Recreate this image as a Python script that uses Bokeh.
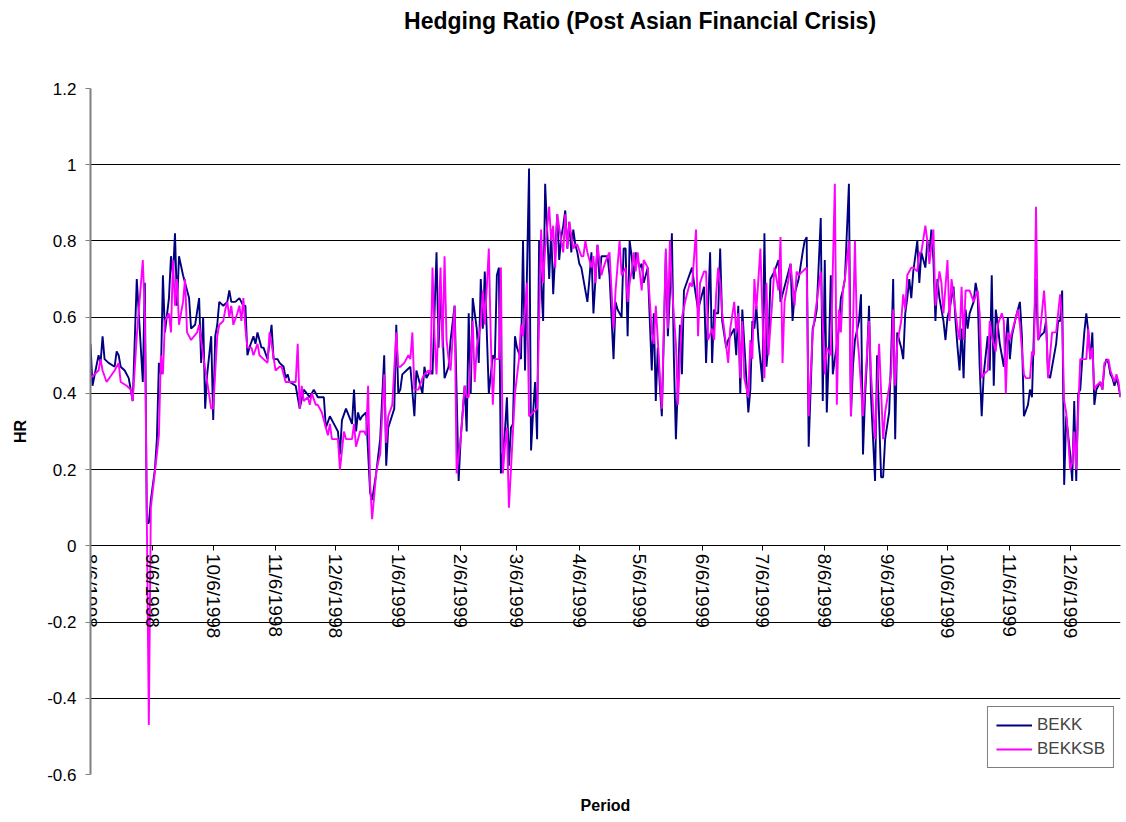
from datetime import date

from bokeh.embed import file_html
from bokeh.layouts import column
from bokeh.models import (CustomJSTickFormatter, FixedTicker, Label, Legend, LegendItem,
                          LinearAxis, Range1d)
from bokeh.plotting import figure
from bokeh.resources import INLINE

# ---------------------------------------------------------------------------
# Data: hedge ratio estimates, x given as calendar days after 6 Aug 1998
# ---------------------------------------------------------------------------
BASE_DATE = date(1998, 8, 6)

tick_labels = ["8/6/1998", "9/6/1998", "10/6/1998", "11/6/1998", "12/6/1998",
               "1/6/1999", "2/6/1999", "3/6/1999", "4/6/1999", "5/6/1999",
               "6/6/1999", "7/6/1999", "8/6/1999", "9/6/1999", "10/6/1999",
               "11/6/1999", "12/6/1999"]

y_ticks = [-0.6, -0.4, -0.2, 0.0, 0.2, 0.4, 0.6, 0.8, 1.0, 1.2]

bekk_day = (
    [0, 1, 4, 5, 6, 7, 9, 12, 13, 14, 15, 17, 19, 21, 23, 26, 27, 28, 29, 30,
     32, 33, 34, 35, 36, 37, 39, 40, 41, 42, 43, 44, 46, 47, 49]
    + [50, 52, 54, 55, 56, 57, 58, 60, 61, 62, 63, 64, 66, 68, 69, 70, 72, 74, 76, 77,
       78, 79, 81, 82, 83, 85, 86, 88, 90, 91, 93, 94, 96, 97, 98, 99]
    + [102, 104, 106, 109, 111, 113, 116, 117, 119, 121, 123, 124, 125, 127, 130, 131,
       132, 133, 134, 135, 137, 139, 140, 142, 144, 146, 147, 148, 151, 152, 153]
    + [154, 155, 157, 159, 161, 162, 164, 165, 166, 167, 169, 170, 171, 172, 173, 174,
       175, 176, 178, 179, 181, 183, 184, 186, 187, 188, 189, 190, 192, 193, 194, 195,
       196, 198, 199, 200, 201, 202, 203, 204, 206]
    + [207, 208, 209, 210, 211, 212, 214, 215, 216, 218, 219, 220, 221, 222, 223, 225,
       226, 227, 228, 229, 230, 232, 233, 234, 235, 236, 237, 238, 239, 240, 241, 242,
       243, 244, 245, 247, 248, 249, 250, 252, 253, 254, 257, 258]
    + [260, 261, 262, 264, 265, 266, 267, 268, 269, 270, 271, 273, 274, 275, 277, 279,
       280, 281, 282, 283, 284, 286, 287, 288, 289, 290, 291, 293, 294, 295, 297, 299,
       300, 302, 303, 305, 306, 308, 309, 310, 311]
    + [312, 313, 314, 316, 317, 320, 321, 322, 323, 324, 325, 327, 328, 329, 330, 331,
       332, 334, 335, 336, 337, 338, 339, 340, 342, 343, 345, 348, 349, 350, 352, 354,
       355, 356, 357, 359, 360, 361, 363]
    + [364, 365, 366, 367, 368, 369, 372, 373, 374, 375, 377, 378, 379, 380, 382, 383,
       384, 385, 386, 387, 388, 390, 391, 393, 394, 395, 397, 398, 399, 400, 401, 403,
       404, 405, 406, 407, 408, 409, 411, 412, 413, 415, 416]
    + [417, 418, 419, 420, 421, 422, 424, 425, 426, 427, 429, 430, 431, 432, 433, 434,
       435, 436, 437, 439, 440, 441, 442, 443, 444, 446, 447, 448, 449, 450, 451, 452,
       453, 454, 456, 457, 458, 460, 462, 463, 464, 466, 467, 468, 469, 470]
    + [471, 472, 474, 475, 476, 477, 478, 480, 481, 482, 483, 484, 485, 487, 488, 489,
       490, 491, 492, 493, 494, 495, 496, 497, 498, 499, 500, 502, 503, 504, 505, 506,
       507, 508, 509, 510, 511, 512]
)

bekk_hr = (
    [0.53, 0.42, 0.50, 0.48, 0.55, 0.49, 0.48, 0.47, 0.51, 0.50, 0.47, 0.46, 0.44, 0.38,
     0.70, 0.43, 0.69, 0.06, 0.06, 0.12, 0.20, 0.28, 0.48, 0.45, 0.71, 0.56, 0.65, 0.76,
     0.71, 0.82, 0.63, 0.76, 0.71, 0.69, 0.65]
    + [0.57, 0.58, 0.65, 0.48, 0.60, 0.36, 0.45, 0.55, 0.33, 0.55, 0.58, 0.64, 0.63, 0.64,
       0.67, 0.64, 0.64, 0.65, 0.63, 0.63, 0.50, 0.52, 0.55, 0.53, 0.56, 0.52, 0.52, 0.49,
       0.58, 0.49, 0.49, 0.48, 0.47, 0.44, 0.45, 0.43]
    + [0.42, 0.36, 0.41, 0.39, 0.41, 0.39, 0.39, 0.31, 0.34, 0.32, 0.30, 0.24, 0.33, 0.36,
       0.32, 0.41, 0.30, 0.35, 0.33, 0.34, 0.35, 0.14, 0.12, 0.19, 0.28, 0.50, 0.21, 0.31,
       0.36, 0.58, 0.40]
    + [0.41, 0.45, 0.46, 0.47, 0.34, 0.46, 0.42, 0.40, 0.47, 0.44, 0.46, 0.45, 0.61, 0.77,
       0.52, 0.66, 0.56, 0.44, 0.47, 0.54, 0.63, 0.17, 0.28, 0.42, 0.30, 0.61, 0.40, 0.65,
       0.57, 0.48, 0.70, 0.57, 0.72, 0.40, 0.45, 0.50, 0.49, 0.71, 0.73, 0.19, 0.30]
    + [0.39, 0.21, 0.31, 0.32, 0.55, 0.52, 0.49, 0.80, 0.46, 0.99, 0.25, 0.35, 0.43, 0.28,
       0.80, 0.59, 0.95, 0.83, 0.70, 0.83, 0.66, 0.87, 0.75, 0.81, 0.84, 0.88, 0.78, 0.85,
       0.77, 0.83, 0.79, 0.77, 0.74, 0.73, 0.70, 0.64, 0.70, 0.77, 0.61, 0.79, 0.70, 0.76,
       0.76, 0.71]
    + [0.49, 0.64, 0.62, 0.60, 0.78, 0.78, 0.55, 0.80, 0.76, 0.70, 0.77, 0.73, 0.74, 0.69,
       0.73, 0.46, 0.61, 0.38, 0.52, 0.42, 0.34, 0.77, 0.55, 0.66, 0.82, 0.49, 0.28, 0.58,
       0.45, 0.67, 0.70, 0.73, 0.69, 0.62, 0.64, 0.68, 0.48, 0.77, 0.48, 0.62, 0.61]
    + [0.61, 0.78, 0.59, 0.52, 0.54, 0.57, 0.50, 0.63, 0.40, 0.62, 0.53, 0.35, 0.41, 0.59,
       0.57, 0.63, 0.54, 0.43, 0.82, 0.47, 0.53, 0.70, 0.71, 0.72, 0.75, 0.64, 0.68, 0.74,
       0.59, 0.66, 0.70, 0.77, 0.80, 0.81, 0.26, 0.57, 0.59, 0.62, 0.86]
    + [0.38, 0.75, 0.35, 0.50, 0.71, 0.45, 0.57, 0.65, 0.67, 0.70, 0.95, 0.34, 0.47, 0.54,
       0.59, 0.66, 0.24, 0.39, 0.49, 0.63, 0.39, 0.17, 0.50, 0.18, 0.18, 0.28, 0.35, 0.50,
       0.70, 0.28, 0.56, 0.52, 0.49, 0.61, 0.65, 0.70, 0.65, 0.72, 0.80, 0.69, 0.77, 0.73,
       0.80]
    + [0.77, 0.83, 0.75, 0.59, 0.70, 0.65, 0.59, 0.54, 0.60, 0.62, 0.68, 0.59, 0.52, 0.46,
       0.57, 0.44, 0.62, 0.57, 0.61, 0.64, 0.69, 0.66, 0.47, 0.34, 0.45, 0.55, 0.46, 0.71,
       0.42, 0.62, 0.58, 0.53, 0.50, 0.47, 0.60, 0.49, 0.55, 0.60, 0.64, 0.55, 0.34, 0.37,
       0.41, 0.39, 0.57, 0.70]
    + [0.54, 0.55, 0.56, 0.59, 0.45, 0.44, 0.47, 0.53, 0.59, 0.59, 0.67, 0.16, 0.34, 0.24,
       0.17, 0.38, 0.17, 0.40, 0.41, 0.49, 0.56, 0.61, 0.56, 0.49, 0.56, 0.37, 0.41, 0.43,
       0.41, 0.47, 0.49, 0.48, 0.45, 0.44, 0.42, 0.44, 0.42, 0.39]
)

bekksb_day = (
    [0, 4, 5, 6, 8, 12, 14, 15, 18, 20, 21, 23, 26, 27, 29, 30, 33, 34, 35, 36, 37, 39,
     40, 41, 42, 43, 44, 46, 47, 48]
    + [50, 53, 54, 56, 58, 60, 61, 63, 64, 66, 67, 68, 69, 70, 71, 73, 74, 75, 76, 77,
       78, 80, 81, 83, 84, 86, 88, 89, 90, 92, 94, 95, 97, 100]
    + [102, 103, 104, 105, 106, 108, 109, 110, 112, 113, 115, 117, 118, 119, 120, 123,
       124, 126, 127, 130, 131, 132, 134, 136, 137, 138, 139, 140, 142, 143, 144, 146,
       147, 148, 150, 152, 153, 154]
    + [156, 158, 159, 160, 161, 163, 165, 166, 168, 169, 170, 171, 172, 174, 175, 176,
       177, 178, 179, 181, 182, 184, 186, 187, 188, 190, 191, 192, 194, 195, 196, 198,
       199, 200, 201, 203, 204, 205, 206]
    + [207, 208, 210, 211, 213, 214, 215, 217, 218, 220, 222, 223, 224, 225, 226, 228,
       229, 230, 231, 232, 234, 235, 236, 237, 238, 240, 241, 242, 244, 245, 246, 247,
       249, 250, 251, 252, 254, 255, 257, 258]
    + [260, 261, 263, 264, 266, 267, 268, 269, 270, 271, 272, 274, 275, 277, 279, 280,
       281, 282, 283, 284, 286, 287, 288, 289, 291, 292, 293, 294, 296, 298, 299, 301,
       302, 303, 305, 306, 307, 309, 310]
    + [311, 312, 313, 314, 317, 318, 320, 321, 322, 323, 324, 325, 327, 328, 329, 330,
       331, 332, 333, 335, 336, 337, 339, 340, 342, 343, 344, 345, 347, 348, 350, 351,
       352, 354, 356, 357, 359, 361, 363]
    + [365, 366, 367, 368, 370, 371, 372, 373, 374, 375, 377, 378, 380, 381, 382, 384,
       385, 387, 388, 390, 392, 394, 395, 398, 399, 400, 401, 403, 404, 405, 406, 408,
       409, 411, 412, 413, 415, 416]
    + [417, 419, 420, 422, 423, 424, 426, 427, 428, 429, 431, 432, 433, 434, 435, 437,
       439, 441, 442, 443, 444, 446, 447, 448, 450, 451, 453, 454, 455, 456, 457, 459,
       461, 462, 464, 465, 467, 468, 469, 470]
    + [471, 472, 474, 475, 476, 478, 480, 482, 483, 484, 485, 486, 487, 488, 489, 490,
       491, 492, 495, 496, 497, 498, 499, 500, 502, 503, 504, 506, 507, 509, 510, 511,
       512]
)

bekksb_hr = (
    [0.44, 0.46, 0.49, 0.46, 0.43, 0.46, 0.48, 0.43, 0.42, 0.41, 0.38, 0.55, 0.75, 0.61,
     -0.47, 0.10, 0.24, 0.29, 0.50, 0.45, 0.59, 0.61, 0.56, 0.75, 0.63, 0.70, 0.58, 0.64,
     0.70, 0.56]
    + [0.54, 0.56, 0.58, 0.50, 0.43, 0.36, 0.36, 0.55, 0.58, 0.59, 0.62, 0.64, 0.60, 0.63,
       0.58, 0.61, 0.63, 0.59, 0.65, 0.57, 0.52, 0.52, 0.50, 0.53, 0.50, 0.49, 0.48, 0.56,
       0.53, 0.46, 0.47, 0.47, 0.43, 0.43]
    + [0.43, 0.53, 0.36, 0.42, 0.38, 0.39, 0.37, 0.40, 0.37, 0.37, 0.35, 0.31, 0.29, 0.32,
       0.28, 0.28, 0.20, 0.30, 0.28, 0.28, 0.32, 0.26, 0.30, 0.30, 0.29, 0.42, 0.16, 0.07,
       0.19, 0.22, 0.24, 0.45, 0.27, 0.34, 0.37, 0.56, 0.47, 0.47]
    + [0.48, 0.50, 0.49, 0.56, 0.41, 0.41, 0.44, 0.45, 0.46, 0.45, 0.73, 0.55, 0.45, 0.73,
       0.52, 0.76, 0.54, 0.49, 0.46, 0.63, 0.19, 0.28, 0.42, 0.39, 0.39, 0.59, 0.43, 0.52,
       0.58, 0.67, 0.58, 0.78, 0.54, 0.37, 0.49, 0.49, 0.73, 0.19, 0.26]
    + [0.31, 0.10, 0.30, 0.40, 0.49, 0.58, 0.55, 0.69, 0.34, 0.35, 0.36, 0.59, 0.83, 0.69,
       0.78, 0.89, 0.80, 0.84, 0.73, 0.87, 0.80, 0.77, 0.87, 0.78, 0.85, 0.78, 0.79, 0.79,
       0.76, 0.76, 0.80, 0.77, 0.73, 0.76, 0.69, 0.79, 0.71, 0.73, 0.76, 0.77]
    + [0.57, 0.67, 0.80, 0.71, 0.73, 0.64, 0.69, 0.72, 0.77, 0.72, 0.77, 0.67, 0.75, 0.73,
       0.56, 0.53, 0.63, 0.54, 0.45, 0.36, 0.78, 0.57, 0.80, 0.68, 0.53, 0.37, 0.49, 0.60,
       0.65, 0.69, 0.68, 0.83, 0.55, 0.69, 0.72, 0.72, 0.54, 0.57, 0.54]
    + [0.66, 0.73, 0.69, 0.61, 0.48, 0.57, 0.64, 0.56, 0.61, 0.44, 0.59, 0.44, 0.39, 0.54,
       0.49, 0.70, 0.62, 0.70, 0.78, 0.44, 0.69, 0.50, 0.65, 0.73, 0.67, 0.81, 0.48, 0.64,
       0.70, 0.74, 0.63, 0.72, 0.71, 0.72, 0.73, 0.34, 0.56, 0.64, 0.72]
    + [0.45, 0.52, 0.51, 0.50, 0.95, 0.37, 0.62, 0.56, 0.67, 0.70, 0.80, 0.34, 0.80, 0.56,
       0.50, 0.34, 0.42, 0.59, 0.45, 0.28, 0.53, 0.28, 0.35, 0.45, 0.62, 0.42, 0.53, 0.59,
       0.66, 0.62, 0.71, 0.73, 0.73, 0.72, 0.77, 0.77, 0.84, 0.80]
    + [0.74, 0.83, 0.63, 0.72, 0.69, 0.61, 0.75, 0.59, 0.70, 0.66, 0.57, 0.54, 0.68, 0.54,
       0.67, 0.67, 0.64, 0.67, 0.61, 0.44, 0.45, 0.46, 0.59, 0.55, 0.51, 0.58, 0.61, 0.59,
       0.40, 0.56, 0.54, 0.58, 0.62, 0.58, 0.45, 0.44, 0.44, 0.51, 0.50, 0.89]
    + [0.54, 0.56, 0.67, 0.59, 0.44, 0.56, 0.56, 0.66, 0.59, 0.38, 0.35, 0.28, 0.20, 0.22,
       0.30, 0.20, 0.36, 0.49, 0.49, 0.57, 0.49, 0.52, 0.41, 0.42, 0.43, 0.41, 0.48, 0.49,
       0.46, 0.43, 0.45, 0.43, 0.39]
)

assert len(bekk_day) == len(bekk_hr)
assert len(bekksb_day) == len(bekksb_hr)


def day_offset(label):
    m, d, y = (int(part) for part in label.split("/"))
    return (date(y, m, d) - BASE_DATE).days


tick_days = [day_offset(lab) for lab in tick_labels]

FONT = "Liberation Sans"
NAVY = "#000080"
MAGENTA = "#FF00FF"
X_END = 512
WIDTH, HEIGHT = 1126, 822
LEFT, RIGHT = 90, 6          # horizontal margins around the plotting area
HEAD_H = 45                  # strip holding the chart heading
DAY_PX = (WIDTH - LEFT - RIGHT) / X_END

# ---------------------------------------------------------------------------
# Heading strip (shares the horizontal layout of the main chart)
# ---------------------------------------------------------------------------
head = figure(width=WIDTH, height=HEAD_H, output_backend="svg", toolbar_location=None,
              x_range=Range1d(0, X_END), y_range=Range1d(0, HEAD_H),
              min_border_left=LEFT, min_border_right=RIGHT,
              min_border_top=0, min_border_bottom=0, outline_line_color=None,
              x_axis_location=None, y_axis_location=None,
              background_fill_color="white", border_fill_color="white")
head.xgrid.visible = False
head.ygrid.visible = False
head.add_layout(Label(x=(640 - LEFT) / DAY_PX, y=HEAD_H - 20,
                      x_units="data", y_units="data",
                      text="Hedging Ratio (Post Asian Financial Crisis)",
                      text_font=FONT, text_font_size="23px", text_font_style="bold",
                      text_color="black", text_align="center", text_baseline="middle"))

# ---------------------------------------------------------------------------
# Main chart
# ---------------------------------------------------------------------------
p = figure(width=WIDTH, height=HEIGHT - HEAD_H, output_backend="svg",
           toolbar_location=None,
           x_range=Range1d(0, X_END), y_range=Range1d(-0.6, 1.2),
           min_border_left=LEFT, min_border_right=RIGHT, min_border_top=88 - HEAD_H,
           min_border_bottom=48, outline_line_color=None,
           background_fill_color="white", border_fill_color="white")

# horizontal grid only
p.xgrid.visible = False
p.ygrid.grid_line_color = "black"
p.ygrid.grid_line_width = 1

# y axis
yax = p.yaxis[0]
yax.ticker = FixedTicker(ticks=y_ticks)
yax.formatter = CustomJSTickFormatter(code="return String(Math.round(tick * 10) / 10);")
yax.axis_line_color = "#808080"
yax.axis_line_width = 2
yax.major_tick_out = 5
yax.major_tick_in = 0
yax.major_tick_line_color = "#808080"
yax.minor_tick_line_color = None
yax.major_label_standoff = 9
yax.major_label_text_font = FONT
yax.major_label_text_font_size = "17px"
yax.major_label_text_color = "black"
yax.axis_label = "HR"
yax.axis_label_text_font = FONT
yax.axis_label_text_font_size = "16px"
yax.axis_label_text_font_style = "bold"
yax.axis_label_text_color = "black"
yax.axis_label_standoff = 15

# bottom axis only carries the "Period" caption
pax = p.xaxis[0]
pax.ticker = FixedTicker(ticks=[])
pax.axis_line_color = None
pax.major_tick_line_color = None
pax.minor_tick_line_color = None
pax.major_tick_out = 0
pax.major_label_standoff = 0
pax.axis_label = "Period"
pax.axis_label_text_font = FONT
pax.axis_label_text_font_size = "16px"
pax.axis_label_text_font_style = "bold"
pax.axis_label_text_color = "black"
pax.axis_label_standoff = 22

# date axis crossing at HR = 0
date_axis = LinearAxis(
    ticker=FixedTicker(ticks=tick_days),
    major_label_overrides={d: lab for d, lab in zip(tick_days, tick_labels)},
    fixed_location=0,
    major_label_orientation="vertical",
    axis_line_color="black", axis_line_width=1,
    major_tick_out=5, major_tick_in=0, major_tick_line_color="black",
    minor_tick_line_color=None,
    major_label_standoff=3,
    major_label_text_font=FONT, major_label_text_font_size="19px",
    major_label_text_color="black",
)
p.add_layout(date_axis, "below")

r_bekk = p.line(bekk_day, bekk_hr, line_color=NAVY, line_width=1.9)
r_sb = p.line(bekksb_day, bekksb_hr, line_color=MAGENTA, line_width=1.9)

legend = Legend(
    items=[LegendItem(label="BEKK", renderers=[r_bekk]),
           LegendItem(label="BEKKSB", renderers=[r_sb])],
    location="bottom_right", margin=6, padding=8, spacing=4,
    glyph_width=36, glyph_height=20, label_height=20, label_standoff=5,
    label_text_font=FONT, label_text_font_size="17px",
    border_line_color="black", border_line_width=1,
    background_fill_color="white", background_fill_alpha=1.0,
)
p.add_layout(legend)

page = column(head, p, spacing=0)
open("out.html", "w").write(file_html(page, INLINE))
